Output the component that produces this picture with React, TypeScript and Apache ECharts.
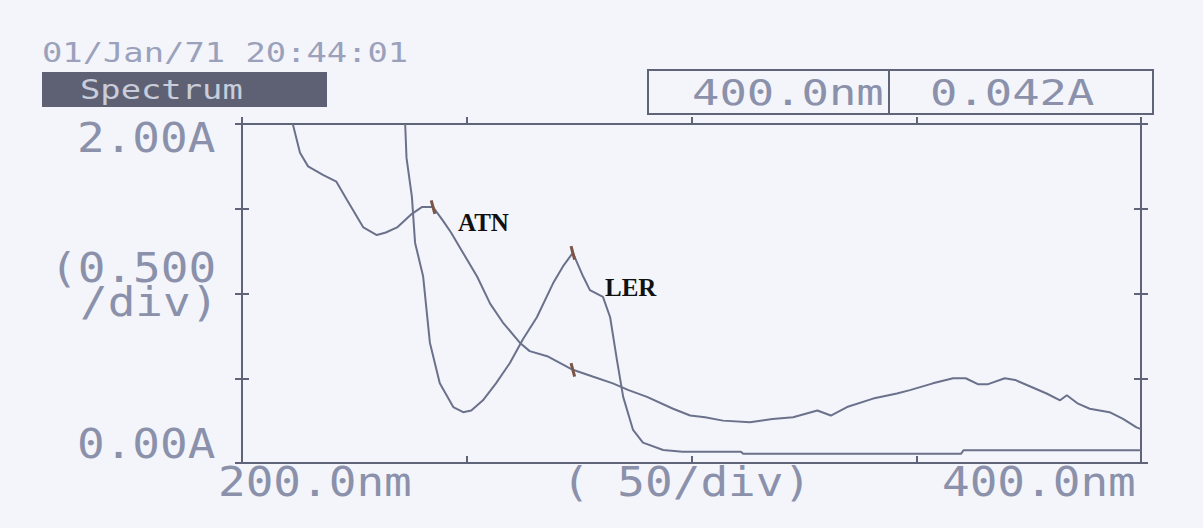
import React, { useEffect, useRef } from "react";
import * as echarts from "echarts";

// ---- data ----
const atnWavelength = [211.3, 212.9, 214.7, 218, 221, 223.4, 227, 230, 232, 234.5, 237.8, 240, 242.5, 244.7, 246.5, 248.5, 252.3, 255.2, 258, 261.8, 264, 267.9, 273.6, 278, 282.5, 286, 290.1, 295.9, 299.7, 303, 307, 313, 318, 322.6, 328, 331, 334.6, 340.4, 345.7, 348.6, 353.7, 358.2, 361, 363.7, 366, 369.7, 372, 374.6, 379, 382, 383.5, 386, 388.6, 393, 396, 399, 400];
const atnAbsorbance = [2.0, 1.83, 1.75, 1.7, 1.66, 1.55, 1.39, 1.345, 1.36, 1.39, 1.47, 1.51, 1.51, 1.43, 1.36, 1.27, 1.1, 0.94, 0.83, 0.71, 0.66, 0.63, 0.55, 0.51, 0.47, 0.43, 0.39, 0.32, 0.28, 0.27, 0.25, 0.24, 0.26, 0.27, 0.31, 0.28, 0.33, 0.38, 0.41, 0.43, 0.47, 0.5, 0.5, 0.465, 0.465, 0.5, 0.49, 0.46, 0.41, 0.37, 0.4, 0.35, 0.32, 0.3, 0.26, 0.21, 0.2];
const lerWavelength = [236.3, 236.6, 237.8, 238.5, 240.3, 241.8, 244, 247, 249.2, 251, 253.6, 256.5, 259.6, 262.5, 265.6, 269.2, 271.4, 273.6, 275.9, 277.4, 280.3, 281.9, 283.4, 284.8, 287, 289.2, 293.7, 298, 311, 311.5, 360, 360.5, 400];
const lerAbsorbance = [2.0, 1.8, 1.57, 1.3, 1.1, 0.71, 0.47, 0.33, 0.3, 0.31, 0.37, 0.47, 0.59, 0.73, 0.86, 1.06, 1.16, 1.24, 1.1, 1.02, 0.98, 0.86, 0.61, 0.39, 0.195, 0.12, 0.077, 0.067, 0.067, 0.055, 0.055, 0.075, 0.075];

const seriesNames = ["ATN", "LER"];
const yTickLabels = ["2.00A", "0.00A"];
const yDivLabel = ["(0.500", "/div)"];
const xTickLabels = ["200.0nm", "400.0nm"];
const xDivLabel = "( 50/div)";
const headerDate = "01/Jan/71 20:44:01";
const modeLabel = "Spectrum";
const cursorWavelength = "400.0nm";
const cursorAbsorbance = "0.042A";

const INK = "#5f6479";
const PRINT = "#8b91aa";
const MONO = "'DejaVu Sans Mono', monospace";

function dotText(text: string, x: number, y: number, size: number, sx: number, color = PRINT) {
  return {
    type: "text",
    x,
    y,
    scaleX: sx,
    scaleY: 1,
    silent: true,
    style: {
      text,
      fill: color,
      font: `${size}px ${MONO}`,
      textAlign: "left",
      textVerticalAlign: "middle",
    },
  };
}

function serifLabel(text: string, x: number, y: number) {
  return {
    type: "text",
    x,
    y,
    silent: true,
    style: {
      text,
      fill: "#111111",
      font: "bold 25px 'Liberation Serif', 'Times New Roman', serif",
      textAlign: "left",
      textVerticalAlign: "middle",
    },
  };
}

export default function App() {
  const ref = useRef<HTMLDivElement>(null);

  useEffect(() => {
    if (!ref.current) return;
    const chart = echarts.init(ref.current, null, { renderer: "svg" });

    const atnData = atnWavelength.map((w, i) => [w, atnAbsorbance[i]]);
    const lerData = lerWavelength.map((w, i) => [w, lerAbsorbance[i]]);

    const axisLine = { show: true, onZero: false, lineStyle: { color: INK, width: 2 } };
    const tick = (inside: boolean) => ({ show: true, inside, length: 7, lineStyle: { color: INK, width: 2 } });
    const xBase = {
      type: "value",
      min: 200,
      max: 400,
      interval: 50,
      axisLine,
      axisLabel: { show: false },
      splitLine: { show: false },
    };
    const yBase = {
      type: "value",
      min: 0,
      max: 2,
      interval: 0.5,
      axisLine,
      axisLabel: { show: false },
      splitLine: { show: false },
    };

    const option = {
      animation: false,
      backgroundColor: "#f3f5fb",
      grid: { left: 242, top: 124, width: 899, height: 339, containLabel: false },
      xAxis: [
        { ...xBase, position: "bottom", axisTick: tick(true) },
        { ...xBase, position: "top", axisTick: tick(false) },
      ],
      yAxis: [
        { ...yBase, position: "left", axisTick: tick(false) },
        { ...yBase, position: "left", axisTick: tick(true) },
        { ...yBase, position: "right", axisTick: tick(false) },
        { ...yBase, position: "right", axisTick: tick(true) },
      ],
      series: [
        {
          name: seriesNames[0],
          type: "line",
          data: atnData,
          symbol: "none",
          smooth: false,
          clip: true,
          lineStyle: { color: "#6c718b", width: 2 },
          markPoint: {
            symbol: "rect",
            symbolSize: [3, 14],
            symbolRotate: 15,
            itemStyle: { color: "#7b5546" },
            label: { show: false },
            data: [
              { coord: [atnWavelength[12], atnAbsorbance[12]] },
              { coord: [atnWavelength[22], atnAbsorbance[22]] },
            ],
          },
        },
        {
          name: seriesNames[1],
          type: "line",
          data: lerData,
          symbol: "none",
          smooth: false,
          clip: true,
          lineStyle: { color: "#6c718b", width: 2 },
          markPoint: {
            symbol: "rect",
            symbolSize: [3, 14],
            symbolRotate: 15,
            itemStyle: { color: "#7b5546" },
            label: { show: false },
            data: [{ coord: [lerWavelength[17], lerAbsorbance[17]] }],
          },
        },
      ],
      graphic: [
        dotText(headerDate, 42, 53, 26, 1.3, "#9ba1bb"),
        {
          type: "rect",
          shape: { x: 42, y: 72, width: 285, height: 35 },
          style: { fill: "#5d6173" },
          silent: true,
        },
        dotText(modeLabel, 80, 90, 26, 1.3, "#c9cddb"),
        {
          type: "rect",
          shape: { x: 648, y: 70, width: 505, height: 44 },
          style: { fill: "none", stroke: INK, lineWidth: 2 },
          silent: true,
        },
        {
          type: "line",
          shape: { x1: 889, y1: 70, x2: 889, y2: 114 },
          style: { stroke: INK, lineWidth: 2 },
          silent: true,
        },
        dotText(cursorWavelength, 692, 93, 35, 1.3),
        dotText(cursorAbsorbance, 930, 93, 35, 1.3),
        dotText(yTickLabels[0], 77, 138, 40, 1.15),
        dotText(yDivLabel[0], 50, 268, 40, 1.15),
        dotText(yDivLabel[1], 80, 302, 40, 1.15),
        dotText(yTickLabels[1], 77, 444, 40, 1.15),
        dotText(xTickLabels[0], 218, 482, 40, 1.15),
        dotText(xDivLabel, 562, 482, 40, 1.15),
        dotText(xTickLabels[1], 942, 482, 40, 1.15),
        serifLabel(seriesNames[0], 458, 222),
        serifLabel(seriesNames[1], 605, 287),
      ],
    };

    chart.setOption(option as any);
    return () => chart.dispose();
  }, []);

  return (
    <div
      ref={ref}
      style={{ position: "fixed", left: 0, top: 0, width: 1203, height: 528 }}
    />
  );
}
